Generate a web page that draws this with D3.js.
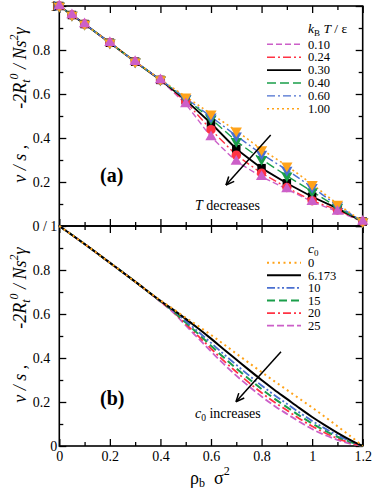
<!DOCTYPE html>
<html><head><meta charset="utf-8">
<script src="https://cdn.jsdelivr.net/npm/d3@7"></script>
<style>
body{margin:0;background:#fff;}
svg, svg text{font-family:"Liberation Serif","DejaVu Serif","Times New Roman",Times,serif !important;}
</style></head>
<body><svg id="c" width="374" height="493" font-family="Liberation Serif, DejaVu Serif, serif"></svg>
<script>
// ---- Panel (a) data: simulation points ----
const rhoA = [0,0.05,0.1,0.2,0.3,0.4,0.5,0.6,0.7,0.8,0.9,1.0,1.1,1.2];
const tempLabels = ["0.10","0.24","0.30","0.40","0.60","1.00"];
const vsT010 = [1.0,0.959,0.918,0.833,0.747,0.664,0.555,0.405,0.293,0.224,0.168,0.110,0.066,0.02];
const vsT024 = [1.0,0.959,0.918,0.833,0.747,0.664,0.565,0.438,0.322,0.240,0.175,0.115,0.073,0.02];
const vsT030 = [1.0,0.959,0.918,0.833,0.747,0.664,0.572,0.467,0.350,0.263,0.194,0.133,0.080,0.02];
const vsT040 = [1.0,0.959,0.918,0.833,0.747,0.665,0.578,0.488,0.385,0.303,0.228,0.157,0.085,0.02];
const vsT060 = [1.0,0.959,0.918,0.833,0.747,0.665,0.581,0.497,0.410,0.327,0.255,0.176,0.093,0.02];
const vsT100 = [1.0,0.959,0.918,0.833,0.747,0.666,0.588,0.510,0.433,0.348,0.274,0.190,0.100,0.02];

// ---- Panel (b) data: theory curves ----
const rhoB = [0,0.1,0.2,0.3,0.4,0.45,0.5,0.55,0.6,0.65,0.7,0.75,0.8,0.85,0.9,0.95,1.0,1.05,1.1,1.15,1.2];
const c0Labels = ["0","6.173","10","15","20","25"];
const vsC0   = [1,0.918,0.833,0.747,0.662,0.623,0.583,0.545,0.505,0.463,0.420,0.378,0.336,0.295,0.255,0.215,0.175,0.133,0.090,0.046,0];
const vsC6   = [1,0.918,0.833,0.747,0.660,0.620,0.578,0.534,0.488,0.440,0.393,0.346,0.300,0.256,0.214,0.172,0.132,0.095,0.060,0.028,0];
const vsC10  = [1,0.918,0.833,0.747,0.659,0.616,0.568,0.519,0.469,0.418,0.369,0.321,0.275,0.232,0.192,0.152,0.114,0.080,0.049,0.022,0];
const vsC15  = [1,0.918,0.833,0.747,0.658,0.613,0.561,0.509,0.456,0.403,0.353,0.305,0.259,0.216,0.177,0.138,0.102,0.070,0.042,0.019,0];
const vsC20  = [1,0.918,0.833,0.747,0.657,0.611,0.555,0.499,0.443,0.388,0.337,0.288,0.242,0.200,0.162,0.124,0.090,0.060,0.035,0.015,0];
const vsC25  = [1,0.918,0.833,0.747,0.656,0.608,0.548,0.489,0.430,0.373,0.320,0.271,0.225,0.183,0.146,0.110,0.077,0.050,0.028,0.011,0];

const xMajor = [0,0.2,0.4,0.6,0.8,1.0,1.2];
const xMinor = [0.1,0.3,0.5,0.7,0.9,1.1];
const yMajor = [0,0.2,0.4,0.6,0.8,1.0];
const yMinor = [0.1,0.3,0.5,0.7,0.9];

const C = {mag:"#cc5fc8", red:"#ff3344", blk:"#000", grn:"#1a9e4a", blu:"#4a6fd0", org:"#ffa31a"};
const FONT = "Liberation Serif, DejaVu Serif, serif";

const svg = d3.select("#c");
const x = d3.scaleLinear([0,1.2],[59.3,362.7]);
const ya = d3.scaleLinear([0,1],[226,6]);
const yb = d3.scaleLinear([0,1],[446,226]);
const fmt = d => d===0?"0":(d===1?"1":d3.format(".1f")(d));

function axis(gen, tr, vals, size, labels){
  const g = svg.append("g").attr("transform",tr)
    .call(gen.tickValues(vals).tickSize(size).tickSizeOuter(0).tickPadding(labels?9:0).tickFormat(labels||(()=>"")));
  g.attr("font-family",FONT);
  g.select(".domain").remove();
  g.selectAll(".tick line").attr("stroke","#000").attr("stroke-width",1.3);
  g.selectAll("text").attr("font-size",14).attr("font-family",FONT);
  return g;
}
// Panel frames
[[ya],[yb]].forEach(([y])=>{
  svg.append("rect").attr("x",x(0)).attr("y",y(1)).attr("width",x(1.2)-x(0)).attr("height",y(0)-y(1))
    .attr("fill","none").attr("stroke","#000").attr("stroke-width",1.6);
});
// Panel a axes
axis(d3.axisTop(x),`translate(0,${ya(1)})`,xMajor,-7);
axis(d3.axisTop(x),`translate(0,${ya(1)})`,xMinor,-4);
axis(d3.axisBottom(x),`translate(0,${ya(0)})`,xMajor,-7);
axis(d3.axisBottom(x),`translate(0,${ya(0)})`,xMinor,-4);
const la = axis(d3.axisLeft(ya),`translate(${x(0)},0)`,yMajor,-7,d=>d===0?"0 / 1":fmt(d));
la.selectAll("text").filter(d=>d===0||d===1).attr("x",-2);
axis(d3.axisLeft(ya),`translate(${x(0)},0)`,yMinor,-4);
axis(d3.axisRight(ya),`translate(${x(1.2)},0)`,yMajor,-7);
axis(d3.axisRight(ya),`translate(${x(1.2)},0)`,yMinor,-4);
// Panel b axes
axis(d3.axisTop(x),`translate(0,${yb(1)})`,xMajor,-7);
axis(d3.axisTop(x),`translate(0,${yb(1)})`,xMinor,-4);
const bx = axis(d3.axisBottom(x),`translate(0,${yb(0)})`,xMajor,-7,fmt);
bx.selectAll("text").attr("y",5);
axis(d3.axisBottom(x),`translate(0,${yb(0)})`,xMinor,-4);
const lb = axis(d3.axisLeft(yb),`translate(${x(0)},0)`,yMajor.slice(0,5),-7,fmt);
lb.selectAll("text").filter(d=>d===0).attr("x",-2);
axis(d3.axisLeft(yb),`translate(${x(0)},0)`,yMinor,-4);
axis(d3.axisRight(yb),`translate(${x(1.2)},0)`,yMajor,-7);
axis(d3.axisRight(yb),`translate(${x(1.2)},0)`,yMinor,-4);

// Panel a series
const seriesA = [
  {lab:tempLabels[0], v:vsT010, c:C.mag, dash:"6,3", sym:"up", w:1.4},
  {lab:tempLabels[1], v:vsT024, c:C.red, dash:"8,3,2,3", sym:"circle", w:1.4},
  {lab:tempLabels[2], v:vsT030, c:C.blk, dash:null, sym:"square", w:1.8},
  {lab:tempLabels[3], v:vsT040, c:C.grn, dash:"9,4", sym:"down", w:1.4},
  {lab:tempLabels[4], v:vsT060, c:C.blu, dash:"8,3,2,3", sym:"down", w:1.4},
  {lab:tempLabels[5], v:vsT100, c:C.org, dash:"2,3", sym:"down", w:1.6}
];
const lineA = d3.line().x((d,i)=>x(rhoA[i])).y(d=>ya(d));
seriesA.forEach(s=>{
  svg.append("path").attr("d",lineA(s.v)).attr("fill","none").attr("stroke",s.c)
    .attr("stroke-width",s.w).attr("stroke-dasharray",s.dash);
});
function sym(g,type,color,cx,cy){
  let t = d3.symbolTriangle, size=55, rot=0;
  if(type==="circle"){t=d3.symbolCircle;size=70;}
  if(type==="square"){t=d3.symbolSquare;size=72;}
  if(type==="down"){rot=180;}
  g.append("path").attr("d",d3.symbol(t,size)())
   .attr("transform",`translate(${cx},${cy}) rotate(${rot})`).attr("fill",color);
}
const drawOrder = [2,1,3,4,5,0];
drawOrder.forEach(k=>{
  const s = seriesA[k];
  const g = svg.append("g");
  s.v.forEach((d,i)=>sym(g,s.sym,s.c,x(rhoA[i]),ya(d)));
});

// Panel b series
const seriesB = [
  {lab:c0Labels[0], v:vsC0, c:C.org, dash:"2,3.5", w:2},
  {lab:c0Labels[1], v:vsC6, c:C.blk, dash:null, w:2},
  {lab:c0Labels[2], v:vsC10, c:C.blu, dash:"8,2.5,2,2.5,2,2.5", w:1.8},
  {lab:c0Labels[3], v:vsC15, c:C.grn, dash:"8,4", w:2},
  {lab:c0Labels[4], v:vsC20, c:C.red, dash:"8,3,2,3", w:1.8},
  {lab:c0Labels[5], v:vsC25, c:C.mag, dash:"7,3", w:1.8}
];
const lineB = d3.line().x((d,i)=>x(rhoB[i])).y(d=>yb(d)).curve(d3.curveMonotoneX);
seriesB.slice().reverse().forEach(s=>{
  svg.append("path").attr("d",lineB(s.v)).attr("fill","none").attr("stroke",s.c)
    .attr("stroke-width",s.w).attr("stroke-dasharray",s.dash);
});

// Legends
function legend(series, y0, dy){
  series.forEach((s,i)=>{
    const y = y0 + i*dy;
    svg.append("line").attr("x1",267).attr("x2",301).attr("y1",y).attr("y2",y)
      .attr("stroke",s.c).attr("stroke-width",s.w||1.6).attr("stroke-dasharray",s.dash);
    svg.append("text").attr("x",308).attr("y",y+4.2).attr("font-size",12.5).attr("font-family",FONT).text(s.lab);
  });
}
legend(seriesA, 44.3, 12.9);
legend(seriesB, 262.7, 12.6);
const ta = svg.append("text").attr("x",308).attr("y",33).attr("font-size",13.5).attr("font-family",FONT);
ta.append("tspan").attr("font-style","italic").text("k");
ta.append("tspan").attr("font-size",9).attr("dy",3).text("B");
ta.append("tspan").attr("dy",-3).attr("font-style","italic").text(" T");
ta.append("tspan").text(" / ε");
const tb = svg.append("text").attr("x",308).attr("y",253).attr("font-size",13.5).attr("font-family",FONT);
tb.append("tspan").attr("font-style","italic").text("c");
tb.append("tspan").attr("font-size",9).attr("dy",3).text("0");

// Panel labels
svg.append("text").attr("x",100).attr("y",182).attr("font-size",20).attr("font-weight","bold").attr("font-family",FONT).text("(a)");
svg.append("text").attr("x",100).attr("y",405).attr("font-size",20).attr("font-weight","bold").attr("font-family",FONT).text("(b)");

// Annotations with arrows
function arrow(x1,y1,x2,y2){
  svg.append("line").attr("x1",x1).attr("y1",y1).attr("x2",x2).attr("y2",y2).attr("stroke","#000").attr("stroke-width",1.5);
  const a = Math.atan2(y2-y1,x2-x1), L=9, s=0.42;
  [a+Math.PI-s, a+Math.PI+s].forEach(b=>{
    svg.append("line").attr("x1",x2).attr("y1",y2).attr("x2",x2+L*Math.cos(b)).attr("y2",y2+L*Math.sin(b))
      .attr("stroke","#000").attr("stroke-width",1.5);
  });
}
arrow(270.7,135,226,185);
arrow(281,351.7,236,401.7);
const t1 = svg.append("text").attr("x",195).attr("y",210).attr("font-size",14).attr("font-family",FONT);
t1.append("tspan").attr("font-style","italic").text("T");
t1.append("tspan").text(" decreases");
const t2 = svg.append("text").attr("x",195).attr("y",418).attr("font-size",14).attr("font-family",FONT);
t2.append("tspan").attr("font-style","italic").text("c");
t2.append("tspan").attr("font-size",9.5).attr("dy",3).text("0");
t2.append("tspan").attr("dy",-3).text(" increases");

// Axis titles
function ytitle(cy){
  const t = svg.append("text").attr("transform",`translate(26,${cy}) rotate(-90)`)
    .attr("text-anchor","middle").attr("font-size",18).attr("font-style","italic").attr("font-family",FONT);
  t.append("tspan").text("v / s ,\u2003\u2003-2R");
  t.append("tspan").attr("font-size",12).attr("dy",4).text("t");
  t.append("tspan").attr("font-size",12).attr("dy",-12).text("0");
  t.append("tspan").attr("dy",8).text(" / Ns");
  t.append("tspan").attr("font-size",12).attr("dy",-8).text("2");
  t.append("tspan").attr("dy",8).text("γ");
}
ytitle(105);
ytitle(325);
const xt = svg.append("text").attr("x",190).attr("y",484).attr("font-size",18).attr("font-family",FONT);
xt.append("tspan").text("ρ");
xt.append("tspan").attr("font-size",12).attr("dy",3).text("b");
xt.append("tspan").attr("dy",-3).text("\u2002σ");
xt.append("tspan").attr("font-size",12).attr("dy",-9).text("2");
</script></body></html>
